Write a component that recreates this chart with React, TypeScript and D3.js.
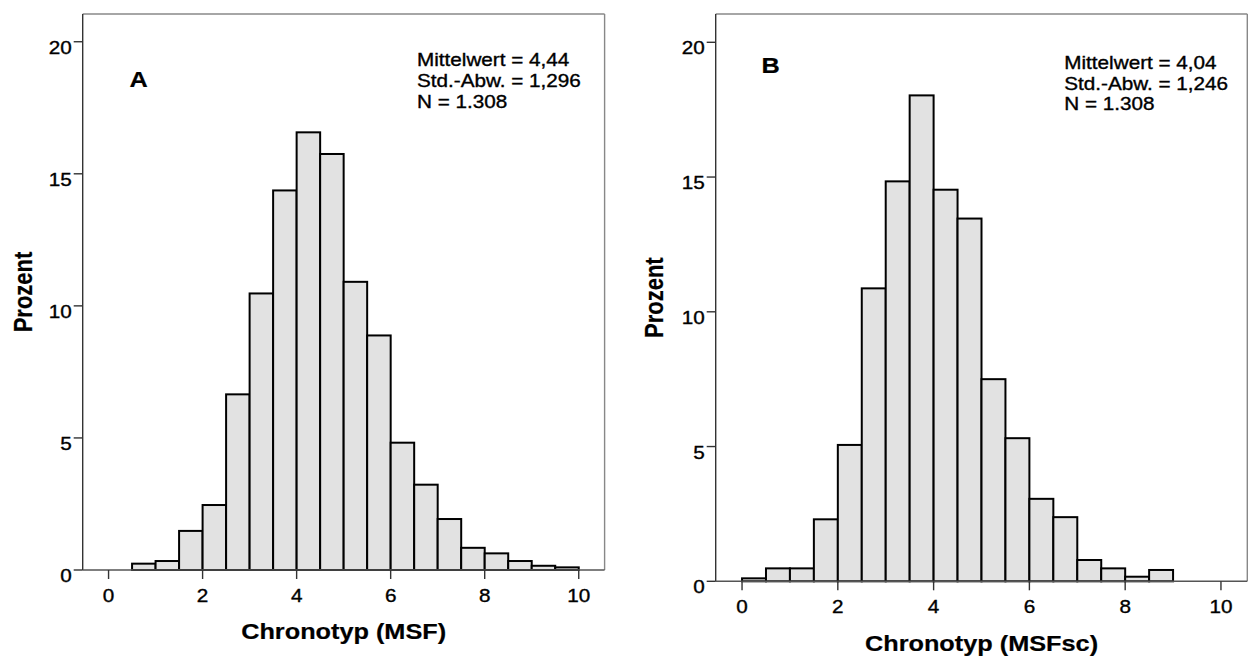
import React from "react";
import * as d3 from "d3";

// ---- data ----
const binWidth = 0.5;
const binStartsA = [0.5, 1.0, 1.5, 2.0, 2.5, 3.0, 3.5, 4.0, 4.5, 5.0, 5.5, 6.0, 6.5, 7.0, 7.5, 8.0, 8.5, 9.0, 9.5];
const percentA = [0.24, 0.34, 1.48, 2.46, 6.65, 10.47, 14.37, 16.57, 15.75, 10.91, 8.88, 4.82, 3.23, 1.93, 0.84, 0.63, 0.34, 0.16, 0.1];
const binStartsB = [0.0, 0.5, 1.0, 1.5, 2.0, 2.5, 3.0, 3.5, 4.0, 4.5, 5.0, 5.5, 6.0, 6.5, 7.0, 7.5, 8.0, 8.5];
const percentB = [0.11, 0.48, 0.48, 2.3, 5.06, 10.87, 14.84, 18.03, 14.53, 13.46, 7.5, 5.31, 3.06, 2.38, 0.79, 0.48, 0.17, 0.42];
const xTicks = [0, 2, 4, 6, 8, 10];
const yTicks = [0, 5, 10, 15, 20];
const statsA = ["Mittelwert = 4,44", "Std.-Abw. = 1,296", "N = 1.308"];
const statsB = ["Mittelwert = 4,04", "Std.-Abw. = 1,246", "N = 1.308"];

const FONT = "'Liberation Sans', Arial, sans-serif";
const SX = 1.15;

type PanelProps = {
  x0: number; x1: number; y0: number; y1: number;
  starts: number[]; values: number[];
  letter: string; letterPos: [number, number];
  stats: string[]; statsPos: [number, number];
  xTitle: string; xTitleY: number; yTitleX: number;
};

function T({ x, y, children, anchor = "start", size = 18, weight = "normal", rotate = false }: any) {
  const tr = `translate(${x},${y}) scale(${SX},1)` + (rotate ? " rotate(-90)" : "");
  return (
    <text
      transform={tr}
      textAnchor={anchor}
      fontSize={size}
      fontWeight={weight}
      fontFamily={FONT}
      fill="#000"
      stroke="#000"
      strokeWidth={weight === "bold" ? 0.2 : 0.35}
    >
      {children}
    </text>
  );
}

function Panel(p: PanelProps) {
  const x = d3.scaleLinear().domain([-0.55, 10.55]).range([p.x0, p.x1]);
  const y = d3.scaleLinear().domain([0, 21.05]).range([p.y1, p.y0]);
  const tickLen = 9;
  return (
    <g>
      {/* bars */}
      {p.values.map((v, i) => (
        <rect
          key={i}
          x={x(p.starts[i])}
          y={y(v)}
          width={x(p.starts[i] + binWidth) - x(p.starts[i])}
          height={y(0) - y(v)}
          fill="#e2e2e2"
          stroke="#000"
          strokeWidth={2}
        />
      ))}
      {/* frame */}
      <line x1={p.x0} x2={p.x1} y1={p.y0} y2={p.y0} stroke="#888" strokeWidth={1.4} />
      <line x1={p.x1} x2={p.x1} y1={p.y0} y2={p.y1} stroke="#888" strokeWidth={1.4} />
      <line x1={p.x0} x2={p.x0} y1={p.y0} y2={p.y1} stroke="#333" strokeWidth={1.4} />
      <line x1={p.x0} x2={p.x1} y1={p.y1} y2={p.y1} stroke="#555" strokeWidth={1.4} />
      {/* y ticks */}
      {yTicks.map((t) => (
        <g key={"y" + t}>
          <line x1={p.x0 - tickLen} x2={p.x0} y1={y(t)} y2={y(t)} stroke="#333" strokeWidth={1.4} />
          <T x={p.x0 - tickLen - 2} y={y(t) + 12} anchor="end" size={18}>{String(t)}</T>
        </g>
      ))}
      {/* x ticks */}
      {xTicks.map((t) => (
        <g key={"x" + t}>
          <line x1={x(t)} x2={x(t)} y1={p.y1} y2={p.y1 + tickLen} stroke="#333" strokeWidth={1.4} />
          <T x={x(t)} y={p.y1 + 31.5} anchor="middle" size={18}>{String(t)}</T>
        </g>
      ))}
      {/* titles */}
      <T x={(p.x0 + p.x1) / 2} y={p.xTitleY} anchor="middle" size={22} weight="bold">{p.xTitle}</T>
      <T x={p.yTitleX} y={(p.y0 + p.y1) / 2} anchor="middle" size={22} weight="bold" rotate>Prozent</T>
      <T x={p.letterPos[0]} y={p.letterPos[1]} size={22} weight="bold">{p.letter}</T>
      {p.stats.map((s, i) => (
        <T key={s} x={p.statsPos[0]} y={p.statsPos[1] + i * 20.8} size={18}>{s}</T>
      ))}
    </g>
  );
}

export default function App() {
  return (
    <svg width={1249} height={659} style={{ position: "absolute", left: 0, top: 0, background: "#fff" }}>
      <rect x={0} y={0} width={1249} height={659} fill="#fff" />
      <Panel
        x0={82.7} x1={604.6} y0={14} y1={570}
        starts={binStartsA} values={percentA}
        letter="A" letterPos={[129.6, 86.5]}
        stats={statsA} statsPos={[417, 66.3]}
        xTitle="Chronotyp (MSF)" xTitleY={638.5} yTitleX={31.5}
      />
      <Panel
        x0={715.7} x1={1247.3} y0={14} y1={581.3}
        starts={binStartsB} values={percentB}
        letter="B" letterPos={[761.4, 72.5]}
        stats={statsB} statsPos={[1064.3, 68.8]}
        xTitle="Chronotyp (MSFsc)" xTitleY={650.5} yTitleX={663}
      />
    </svg>
  );
}
